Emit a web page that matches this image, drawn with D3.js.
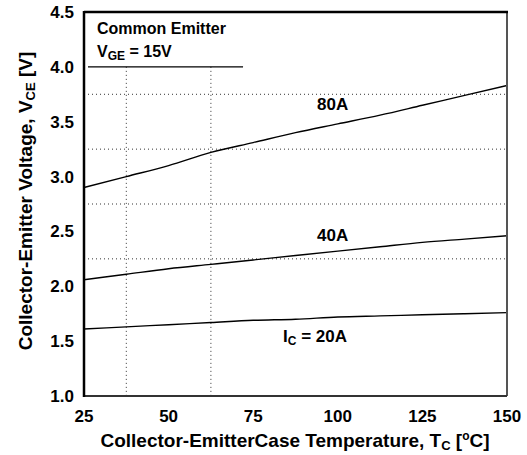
<!DOCTYPE html>
<html><head><meta charset="utf-8">
<script src="https://cdn.jsdelivr.net/npm/d3@7"></script>
<style>body{margin:0;background:#fff}svg{display:block}text{font-family:"Liberation Sans",Arial,sans-serif;font-weight:bold;fill:#000}</style>
</head><body>
<svg id="c" width="527" height="455"></svg>
<script>
const temps = [25, 37.5, 50, 62.5, 75, 87.5, 100, 112.5, 125, 137.5, 150];
const v80 = [2.90, 3.00, 3.10, 3.22, 3.31, 3.40, 3.48, 3.56, 3.65, 3.74, 3.83];
const v40 = [2.06, 2.11, 2.16, 2.20, 2.24, 2.28, 2.32, 2.36, 2.40, 2.43, 2.46];
const v20 = [1.61, 1.63, 1.65, 1.67, 1.69, 1.70, 1.72, 1.73, 1.74, 1.75, 1.76];
const xTicks = [25, 50, 75, 100, 125, 150];
const yTicks = [1.0, 1.5, 2.0, 2.5, 3.0, 3.5, 4.0, 4.5];
const xGrid = [37.5, 62.5];
const yGrid = [2.25, 2.75, 3.25, 3.75];

const svg = d3.select("#c");
const L = 84, R = 507, T = 12, B = 396;
const x = d3.scaleLinear().domain([25, 150]).range([L, R]);
const y = d3.scaleLinear().domain([1.0, 4.5]).range([B, T]);

// grid
svg.selectAll(".hg").data(yGrid).join("line")
  .attr("x1", L).attr("x2", R).attr("y1", d => y(d)).attr("y2", d => y(d))
  .attr("stroke", "#333").attr("stroke-width", 1).attr("stroke-dasharray", "1,3");
svg.selectAll(".vg").data(xGrid).join("line")
  .attr("x1", d => x(d)).attr("x2", d => x(d)).attr("y1", y(4.0)).attr("y2", B)
  .attr("stroke", "#333").attr("stroke-width", 1).attr("stroke-dasharray", "1,3");

// legend box line
svg.append("line").attr("x1", L + 4).attr("x2", x(72)).attr("y1", y(4.0)).attr("y2", y(4.0))
  .attr("stroke", "#000").attr("stroke-width", 1.3);

// curves
const line = d3.line().x((d, i) => x(temps[i])).y(d => y(d)).curve(d3.curveMonotoneX);
[v80, v40, v20].forEach(s => {
  svg.append("path").attr("d", line(s)).attr("fill", "none").attr("stroke", "#000").attr("stroke-width", 1.4);
});

// frame
svg.append("line").attr("x1", R).attr("x2", R).attr("y1", T).attr("y2", B).attr("stroke", "#555").attr("stroke-width", 2);
svg.append("line").attr("x1", L).attr("x2", R).attr("y1", B).attr("y2", B).attr("stroke", "#333").attr("stroke-width", 2);
svg.append("line").attr("x1", L).attr("x2", R + 1).attr("y1", T).attr("y2", T).attr("stroke", "#000").attr("stroke-width", 2.5);
svg.append("line").attr("x1", L).attr("x2", L).attr("y1", T - 1).attr("y2", B + 1).attr("stroke", "#000").attr("stroke-width", 2.5);

// tick labels
svg.selectAll(".yt").data(yTicks).join("text")
  .attr("x", 74).attr("y", d => y(d) + 6).attr("text-anchor", "end").attr("font-size", 17)
  .text(d => d3.format(".1f")(d));
svg.selectAll(".xt").data(xTicks).join("text")
  .attr("x", d => x(d)).attr("y", 422).attr("text-anchor", "middle").attr("font-size", 17)
  .text(d => d);

// axis titles
const xt = svg.append("text").attr("x", 295).attr("y", 447).attr("text-anchor", "middle").attr("font-size", 19);
xt.append("tspan").text("Collector-EmitterCase Temperature, T");
xt.append("tspan").attr("font-size", 13).attr("dy", 3).text("C");
xt.append("tspan").attr("dy", -3).text(" [");
xt.append("tspan").attr("font-size", 12).attr("dy", -7).text("o");
xt.append("tspan").attr("dy", 7).text("C]");

const yt = svg.append("text").attr("transform", "translate(32,201) rotate(-90)").attr("text-anchor", "middle").attr("font-size", 19);
yt.append("tspan").text("Collector-Emitter Voltage, V");
yt.append("tspan").attr("font-size", 13).attr("dy", 3).text("CE");
yt.append("tspan").attr("dy", -3).text(" [V]");

// legend text
svg.append("text").attr("x", 97).attr("y", 34).attr("font-size", 16).text("Common Emitter");
const vg = svg.append("text").attr("x", 97).attr("y", 57).attr("font-size", 16);
vg.append("tspan").text("V");
vg.append("tspan").attr("font-size", 12).attr("dy", 3).text("GE");
vg.append("tspan").attr("dy", -3).text(" = 15V");

// curve labels
svg.append("text").attr("x", 317).attr("y", 110).attr("font-size", 17).text("80A");
svg.append("text").attr("x", 317).attr("y", 241).attr("font-size", 17).text("40A");
const ic = svg.append("text").attr("x", 283).attr("y", 342).attr("font-size", 17);
ic.append("tspan").text("I");
ic.append("tspan").attr("font-size", 12).attr("dy", 3).text("C");
ic.append("tspan").attr("dy", -3).text(" = 20A");
</script>
</body></html>
